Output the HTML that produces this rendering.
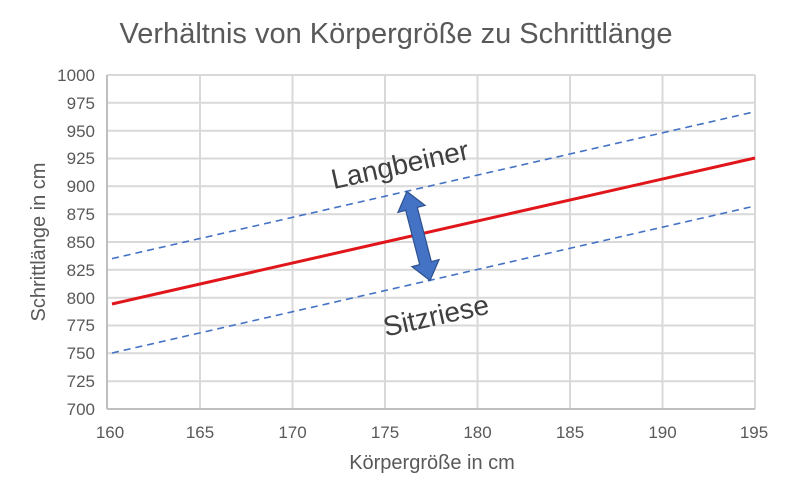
<!DOCTYPE html>
<html><head><style>body{margin:0;background:#fff}</style></head><body>
<svg width="792" height="495" xmlns="http://www.w3.org/2000/svg" font-family="Liberation Sans, sans-serif">
<rect width="792" height="495" fill="#fff"/>
<text x="396" y="43" text-anchor="middle" font-size="29" fill="#595959">Verhältnis von Körpergröße zu Schrittlänge</text>
<g stroke="#d9d9d9" stroke-width="2">
<line x1="107" x2="755" y1="75" y2="75"/><line x1="107" x2="755" y1="102.8" y2="102.8"/><line x1="107" x2="755" y1="130.7" y2="130.7"/><line x1="107" x2="755" y1="158.5" y2="158.5"/><line x1="107" x2="755" y1="186.3" y2="186.3"/><line x1="107" x2="755" y1="214.2" y2="214.2"/><line x1="107" x2="755" y1="242" y2="242"/><line x1="107" x2="755" y1="269.8" y2="269.8"/><line x1="107" x2="755" y1="297.7" y2="297.7"/><line x1="107" x2="755" y1="325.5" y2="325.5"/><line x1="107" x2="755" y1="353.3" y2="353.3"/><line x1="107" x2="755" y1="381.2" y2="381.2"/>
<line x1="200" x2="200" y1="75" y2="409"/><line x1="292.5" x2="292.5" y1="75" y2="409"/><line x1="385" x2="385" y1="75" y2="409"/><line x1="477.5" x2="477.5" y1="75" y2="409"/><line x1="570" x2="570" y1="75" y2="409"/><line x1="662.5" x2="662.5" y1="75" y2="409"/><line x1="755" x2="755" y1="75" y2="409"/>
</g>
<g stroke="#bfbfbf" stroke-width="2"><line x1="107" x2="755" y1="409" y2="409"/><line x1="107" x2="107" y1="75" y2="409"/></g>
<g font-size="17" fill="#595959" text-anchor="end">
<text x="95" y="81">1000</text><text x="95" y="109">975</text><text x="95" y="137">950</text><text x="95" y="164">925</text><text x="95" y="192">900</text><text x="95" y="220">875</text><text x="95" y="248">850</text><text x="95" y="276">825</text><text x="95" y="304">800</text><text x="95" y="331">775</text><text x="95" y="359">750</text><text x="95" y="387">725</text><text x="95" y="415">700</text>
</g>
<g font-size="17" fill="#595959" text-anchor="middle">
<text x="110" y="438">160</text><text x="200" y="438">165</text><text x="292.5" y="438">170</text><text x="385" y="438">175</text><text x="477.5" y="438">180</text><text x="570" y="438">185</text><text x="662.5" y="438">190</text><text x="754" y="438">195</text>
</g>
<text x="432" y="469" text-anchor="middle" font-size="20" fill="#595959">Körpergröße in cm</text>
<text transform="translate(45,242) rotate(-90)" text-anchor="middle" font-size="20" fill="#595959">Schrittlänge in cm</text>
<g stroke="#4472c4" stroke-width="1.6" stroke-dasharray="7,5" fill="none">
<line x1="112" y1="258.6" x2="755" y2="111.7"/><line x1="112" y1="353" x2="755" y2="206"/>
</g>
<line x1="112" y1="304" x2="755" y2="158" stroke="#e0161b" stroke-width="3"/>
<g transform="translate(418.5,236) rotate(-14.5)">
<polygon points="0,-46 14,-28 6,-28 6,28 14,28 0,46 -14,28 -6,28 -6,-28 -14,-28" fill="#4472c4" stroke="#2f528f" stroke-width="1.2"/>
</g>
<text transform="translate(402,174) rotate(-12.5)" text-anchor="middle" font-size="28" fill="#404040">Langbeiner</text>
<text transform="translate(438,325) rotate(-12.5)" text-anchor="middle" font-size="28" fill="#404040">Sitzriese</text>
</svg>
</body></html>
